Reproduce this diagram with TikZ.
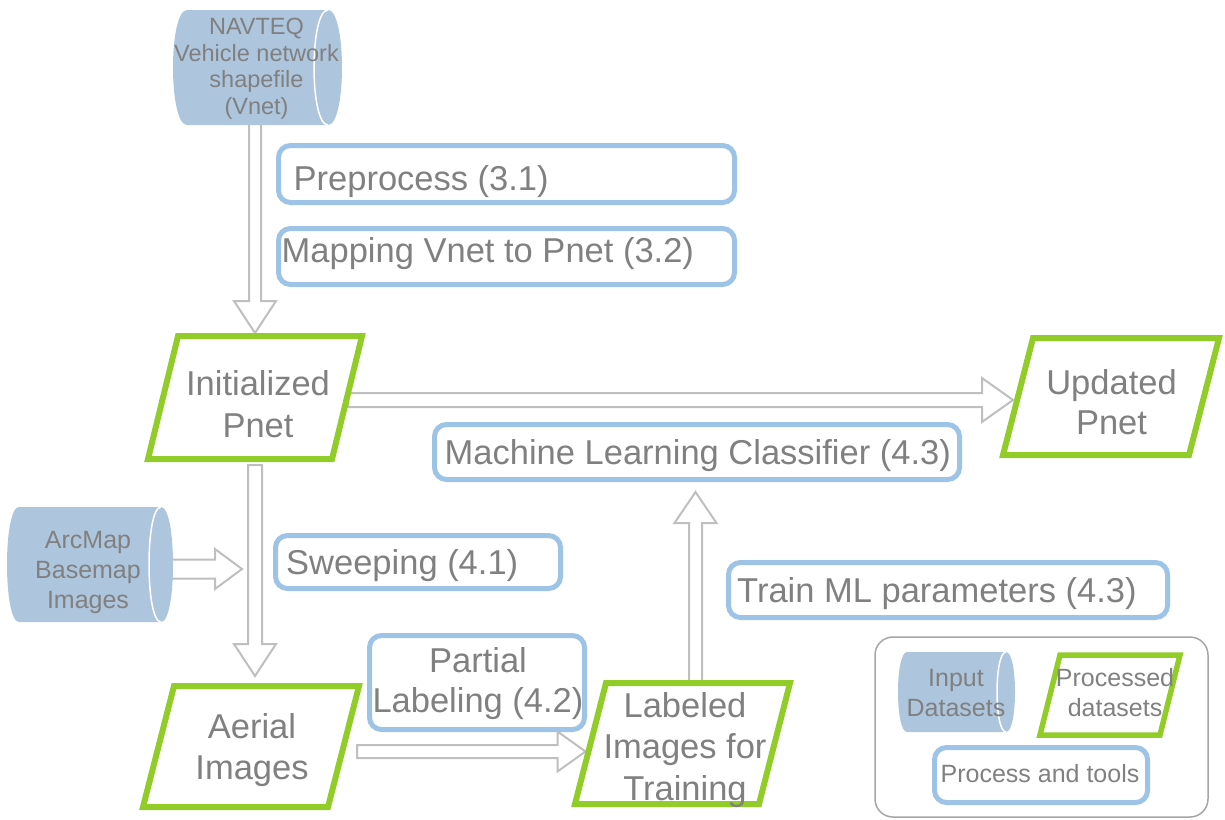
\documentclass[tikz,border=0pt]{standalone}
\usepackage{fontspec}
\setmainfont{Liberation Sans}
\usetikzlibrary{calc}
\definecolor{txt}{RGB}{128,128,128}
\definecolor{bluebd}{RGB}{157,195,230}
\definecolor{greenbd}{RGB}{146,204,40}
\definecolor{cylcol}{RGB}{173,197,221}
\definecolor{arrcol}{RGB}{191,191,191}
\definecolor{legcol}{RGB}{166,166,166}
% horizontal cylinder: x1,y1,x2,y2,rx
\newcommand\cylshape[5]{%
  \fill[cylfill] ({#1+#5},#2) -- ({#3-#5},#2)
    .. controls ({#3+0.333*#5},#2) and ({#3+0.333*#5},#4) .. ({#3-#5},#4)
    -- ({#1+#5},#4)
    .. controls ({#1-0.333*#5},#4) and ({#1-0.333*#5},#2) .. ({#1+#5},#2) -- cycle;
  \draw[cylarc] ({#3-#5},#2) .. controls ({#3-2.333*#5},#2) and ({#3-2.333*#5},#4) .. ({#3-#5},#4);
}
% hollow block arrow: from, to, half shaft, half head, head length
\newcommand\harrow[5]{%
  \coordinate (hb) at ($(#2)!#5!(#1)$);
  \draw[arrline] ($(#1)!#3!90:(#2)$) -- ($(hb)!#3!90:(#2)$) -- ($(hb)!#4!90:(#2)$)
    -- (#2) -- ($(hb)!#4!-90:(#2)$) -- ($(hb)!#3!-90:(#2)$) -- ($(#1)!#3!-90:(#2)$) -- cycle;
}
\begin{document}
\begin{tikzpicture}[x=1pt,y=-1pt,
  bbox/.style={draw=bluebd, line width=5pt, rounded corners=12pt, inner sep=0pt},
  pshape/.style={inner sep=0pt, outer sep=0pt},
  gline/.style={draw=greenbd, line width=6pt, line join=miter},
  arrline/.style={draw=arrcol, line width=2pt, fill=white, line join=miter},
  cylfill/.style={fill=cylcol},
  cylarc/.style={draw=white, line width=1.5pt},
  lbl/.style 2 args={font=\fontsize{#1}{#2}\selectfont, text=txt, inner sep=0pt, align=center},
  ltxt/.style={font=\fontsize{34.5}{41}\selectfont, text=txt, inner sep=0pt, anchor=base west},
]
\useasboundingbox (0,0) rectangle (1225,819);

% legend frame
\node[draw=legcol, line width=1.5pt, rounded corners=18pt, minimum width=333pt, minimum height=180pt, inner sep=0pt] (leg) at (1041.5,727) {};

% shape nodes (invisible, carry anchors)
\node[pshape, minimum width=169pt, minimum height=115pt] (nav) at (257.5,67.5) {};
\node[pshape, minimum width=166pt, minimum height=115pt] (arc) at (90,564.5) {};
\node[pshape, minimum width=117pt, minimum height=80pt] (inp) at (956.5,692) {};
\node[pshape, minimum width=220pt, minimum height=129pt] (init) at (255,397.5) {};
\node[pshape, minimum width=222pt, minimum height=123pt] (upd) at (1111,396.5) {};
\node[pshape, minimum width=222pt, minimum height=127pt] (aer) at (251,746.5) {};
\node[pshape, minimum width=221pt, minimum height=127pt] (lab) at (682.5,743.5) {};
\node[pshape, minimum width=146pt, minimum height=86pt] (proc) at (1110,695) {};

% blue process boxes
\node[bbox, minimum width=456pt, minimum height=57pt] (pre) at (506.5,174) {};
\node[bbox, minimum width=456pt, minimum height=56pt] (map) at (506.5,256.5) {};
\node[bbox, minimum width=525pt, minimum height=55pt] (mlc) at (697,452) {};
\node[bbox, minimum width=285pt, minimum height=53pt] (swp) at (418,562) {};
\node[bbox, minimum width=439pt, minimum height=55pt] (trn) at (948,590) {};
\node[bbox, minimum width=215pt, minimum height=94pt] (par) at (477,682.5) {};
\node[bbox, minimum width=213pt, minimum height=55pt] (ptl) at (1041,775) {};

% arrows
\coordinate (a1s0) at (init.north |- nav.south);
\coordinate (a1s) at ($(a1s0)+(0,-6)$);
\harrow{a1s}{init.north}{6pt}{21pt}{32pt}
\coordinate (a2s) at ($(init.east)+(-17,2.5)$);
\coordinate (a2e) at ($(upd.west)+(13,3.5)$);
\harrow{a2s}{a2e}{7pt}{22pt}{31pt}
\coordinate (a3e0) at (init.south |- aer.north);
\coordinate (a3e) at ($(a3e0)+(0,-7)$);
\coordinate (a3s) at ($(init.south)+(0,3)$);
\harrow{a3s}{a3e}{7pt}{21pt}{32pt}
\coordinate (a4s) at ($(arc.east)+(-5,4.5)$);
\coordinate (a4e) at ($(swp.west)+(-31,7)$);
\harrow{a4s}{a4e}{9.5pt}{20pt}{27pt}
\coordinate (a5s) at ($(aer.east)+(-5,5)$);
\coordinate (a5e) at ($(lab.west)+(13.5,8)$);
\harrow{a5s}{a5e}{6.5pt}{20pt}{28pt}
\coordinate (a6s0) at (mlc.south |- lab.north);
\coordinate (a6s) at ($(a6s0)+(-1.5,3)$);
\coordinate (a6e) at ($(mlc.south)+(-1.5,10)$);
\harrow{a6s}{a6e}{6.5pt}{21pt}{31pt}

% cylinders (input datasets)
\cylshape{173}{10}{342}{125}{14}
\cylshape{7}{507}{173}{622}{12}
\cylshape{898}{652}{1015}{732}{9}

% green parallelograms (processed datasets)
\draw[gline] ($(init.north west)+(33,3)$) -- ($(init.north east)+(-3,3)$) -- ($(init.south east)+(-33,-3)$) -- ($(init.south west)+(3,-3)$) -- cycle;
\draw[gline] ($(upd.north west)+(33,3)$) -- ($(upd.north east)+(-3,3)$) -- ($(upd.south east)+(-33,-3)$) -- ($(upd.south west)+(3,-3)$) -- cycle;
\draw[gline] ($(aer.north west)+(34,3)$) -- ($(aer.north east)+(-3,3)$) -- ($(aer.south east)+(-34,-3)$) -- ($(aer.south west)+(3,-3)$) -- cycle;
\draw[gline] ($(lab.north west)+(34,3)$) -- ($(lab.north east)+(-3,3)$) -- ($(lab.south east)+(-34,-3)$) -- ($(lab.south west)+(3,-3)$) -- cycle;
\draw[gline, line width=5.5pt] ($(proc.north west)+(23,3)$) -- ($(proc.north east)+(-3,3)$) -- ($(proc.south east)+(-23,-3)$) -- ($(proc.south west)+(3,-3)$) -- cycle;

% texts
\node[lbl={23.5}{26.5}] (navT) at (256.5,68.8) {NAVTEQ\\Vehicle network\\shapefile\\(Vnet)};
\node[lbl={25}{30}] (arcT) at (88,572) {ArcMap\\Basemap\\Images};
\node[lbl={25}{30}] (inpT) at (956,693) {Input\\Datasets};
\node[lbl={25}{30}] (procT) at (1115,693) {Processed\\datasets};
\node[lbl={34.5}{42}] (initT) at (258,404) {Initialized\\Pnet};
\node[lbl={34.5}{40}] (updT) at (1111.5,402) {Updated\\Pnet};
\node[lbl={34.5}{41}] (aerT) at (252,749.75) {Aerial\\Images};
\node[lbl={34.5}{41.5}] (labT) at (685,749.75) {Labeled\\Images for\\Training};
\node[lbl={34.5}{40}] (parT) at (478,683.25) {Partial\\Labeling (4.2)};
\node[ltxt] (preT) at (293.5,190) {Preprocess (3.1)};
\node[ltxt] (mapT) at (281.5,262.5) {Mapping Vnet to Pnet (3.2)};
\node[ltxt] (mlcT) at (444.5,464) {Machine Learning Classifier (4.3)};
\node[ltxt] (swpT) at (286,574) {Sweeping (4.1)};
\node[ltxt] (trnT) at (737,602) {Train ML parameters (4.3)};
\node[lbl={25}{30}, anchor=base] (ptlT) at (1040,782) {Process and tools};
\end{tikzpicture}
\end{document}
